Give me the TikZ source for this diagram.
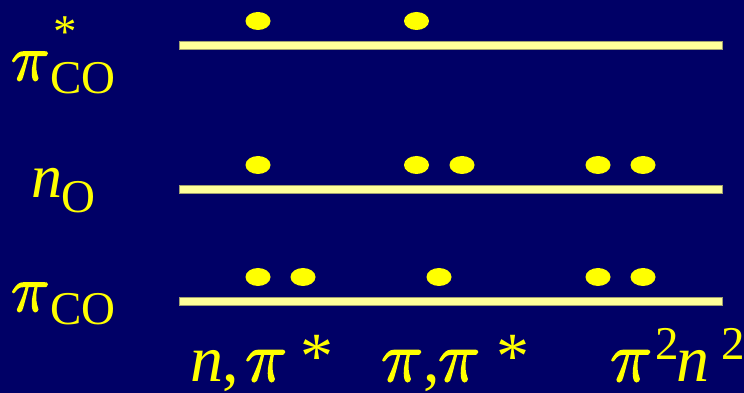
\RequirePackage{fix-cm}
\documentclass[tikz,border=0pt]{standalone}
\usepackage{fontspec}
\setmainfont{Liberation Serif}
\usetikzlibrary{shapes.geometric}
\definecolor{bg}{HTML}{000066}
\definecolor{lvl}{HTML}{FFFF99}
\definecolor{lvledge}{HTML}{A0A070}
\definecolor{dotc}{HTML}{FFFF00}
\definecolor{txt}{HTML}{FFFF00}
\newcommand{\szmain}{\fontsize{62}{62}\selectfont}
\newcommand{\szpi}{\fontsize{65}{65}\selectfont}
\newcommand{\szsub}{\fontsize{47}{47}\selectfont}
\newcommand{\szbot}{\fontsize{66}{66}\selectfont}
\newcommand{\szbpi}{\fontsize{71}{71}\selectfont}
\newcommand{\mypi}{\special{pdf:literal direct 2 Tr 1.5 w}$\pi$\special{pdf:literal direct 0 Tr}}
\begin{document}
\begin{tikzpicture}[x=1pt,y=1pt,
  level/.style={fill=lvl, draw=lvledge, line width=0.6pt},
  electron/.style={ellipse, fill=dotc, minimum width=25pt, minimum height=18pt, inner sep=0pt},
  lab/.style={text=txt, inner sep=0pt, anchor=base west}]
\fill[bg] (0,0) rectangle (744,393);
\useasboundingbox (0,0) rectangle (744,393);
% levels
\draw[level] (179,344) rectangle (722,352);
\draw[level] (179,200) rectangle (722,208);
\draw[level] (179,88) rectangle (722,96);
% electrons: top level
\node[electron] (t1) at (258,372) {};
\node[electron] (t2) at (416.5,372) {};
% middle level
\node[electron] (m1) at (258,228) {};
\node[electron] (m2) at (416.5,228) {};
\node[electron] (m3) at (462,228) {};
\node[electron] (m4) at (598,228) {};
\node[electron] (m5) at (643,228) {};
% bottom level
\node[electron] (b1) at (258,116) {};
\node[electron] (b2) at (303,116) {};
\node[electron] (b3) at (439,116) {};
\node[electron] (b4) at (598,116) {};
\node[electron] (b5) at (643,116) {};
% left labels
\node[lab, font=\szpi] (l1) at (11,313) {\mypi};
\node[lab, font=\szsub] (l1s) at (50,299) {CO};
\node[lab, font=\szsub] (l1a) at (53,345) {*};
\node[lab, font=\szmain] (l2) at (31,195) {\itshape n};
\node[lab, font=\szsub] (l2s) at (61,180) {O};
\node[lab, font=\szpi] (l3) at (11,82) {\mypi};
\node[lab, font=\szsub] (l3s) at (50,68) {CO};
% bottom labels
\node[lab, font=\szbot] (c1n) at (190,11) {\itshape n};
\node[lab, font=\szbot] (c1c) at (222,11) {,};
\node[lab, font=\szbpi] (c1p) at (245,12) {\mypi};
\node[lab, font=\szbot] (c1a) at (300,14) {*};
\node[lab, font=\szbpi] (c2p) at (381,12) {\mypi};
\node[lab, font=\szbot] (c2c) at (423,11) {,};
\node[lab, font=\szbpi] (c2q) at (438,12) {\mypi};
\node[lab, font=\szbot] (c2a) at (496,14) {*};
\node[lab, font=\szbpi] (c3) at (610,12) {\mypi};
\node[lab, font=\szsub] (c3s) at (655,33) {2};
\node[lab, font=\szbot] (c4) at (676,11) {\itshape n};
\node[lab, font=\szsub] (c4s) at (721,33) {2};
\end{tikzpicture}
\end{document}
